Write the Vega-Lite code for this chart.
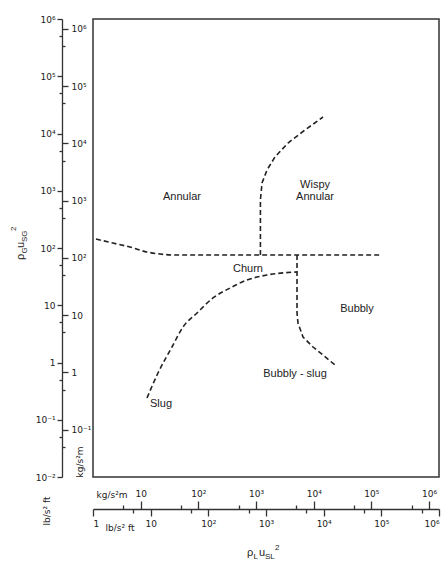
{
  "$schema": "https://vega.github.io/schema/vega-lite/v6.json",
  "width": 346,
  "height": 458,
  "autosize": "none",
  "padding": {"left": 93, "top": 19, "right": 5, "bottom": 88},
  "background": "white",
  "config": {
    "view": {"stroke": "#333", "strokeWidth": 1.5},
    "axis": {"labelFont": "DejaVu Sans", "labelFontSize": 9, "labelColor": "#222", "tickColor": "#333", "tickWidth": 1.3, "domainColor": "#333", "domainWidth": 1.3, "grid": false, "title": null, "labelOverlap": false, "labelFlush": false},
    "text": {"font": "Liberation Sans", "fontSize": 11, "color": "#222"}
  },
  "layer": [
    {
      "encoding": {
        "x": {"field": "x", "type": "quantitative", "scale": {"type": "log", "domain": [1, 1000000], "nice": false},
          "axis": {"orient": "bottom", "offset": 32, "labelFlush": true, "values": [1, 5, 10, 50, 100, 500, 1000, 5000, 10000, 50000, 100000, 500000, 1000000],
            "labelExpr": "datum.value==0.01?'10⁻²':datum.value==0.1?'10⁻¹':datum.value==1?'1':datum.value==10?'10':datum.value==100?'10²':datum.value==1000?'10³':datum.value==10000?'10⁴':datum.value==100000?'10⁵':datum.value==1000000?'10⁶':''",
            "tickSize": {"condition": {"test": "abs(log(datum.value)/LN10-round(log(datum.value)/LN10))>0.1", "value": 4}, "value": 7},
            "labelPadding": 3}},
        "y": {"field": "y", "type": "quantitative", "scale": {"type": "log", "domain": [0.01, 1000000], "nice": false},
          "axis": {"orient": "left", "offset": 31, "values": [0.01, 0.05, 0.1, 0.5, 1, 5, 10, 50, 100, 500, 1000, 5000, 10000, 50000, 100000, 500000, 1000000],
            "labelExpr": "datum.value==0.01?'10⁻²':datum.value==0.1?'10⁻¹':datum.value==1?'1':datum.value==10?'10':datum.value==100?'10²':datum.value==1000?'10³':datum.value==10000?'10⁴':datum.value==100000?'10⁵':datum.value==1000000?'10⁶':''",
            "tickSize": {"condition": {"test": "abs(log(datum.value)/LN10-round(log(datum.value)/LN10))>0.1", "value": 3}, "value": 5},
            "labelPadding": 2}}
      },
      "layer": [
        {
          "data": {"values": [
            {"c": "A", "i": 0, "x": 1.127, "y": 143.6},
            {"c": "A", "i": 1, "x": 2.22, "y": 122},
            {"c": "A", "i": 2, "x": 4.38, "y": 104},
            {"c": "A", "i": 3, "x": 8.64, "y": 85.1},
            {"c": "A", "i": 4, "x": 14.5, "y": 78.5},
            {"c": "A", "i": 5, "x": 24.4, "y": 75.5},
            {"c": "A", "i": 6, "x": 103000, "y": 75.5},
            {"c": "C", "i": 0, "x": 8.64, "y": 0.24},
            {"c": "C", "i": 1, "x": 13.4, "y": 0.656},
            {"c": "C", "i": 2, "x": 23.4, "y": 1.865},
            {"c": "C", "i": 3, "x": 36.4, "y": 4.17},
            {"c": "C", "i": 4, "x": 63.6, "y": 7.32},
            {"c": "C", "i": 5, "x": 120.5, "y": 13.4},
            {"c": "C", "i": 6, "x": 237.6, "y": 20.0},
            {"c": "C", "i": 7, "x": 468, "y": 27.6},
            {"c": "C", "i": 8, "x": 1041, "y": 33.8},
            {"c": "C", "i": 9, "x": 3450, "y": 38.1}
          ]},
          "mark": {"type": "line", "strokeDash": [5, 3], "strokeWidth": 1.6, "color": "#222", "interpolate": "monotone"},
          "encoding": {"detail": {"field": "c"}, "order": {"field": "i", "type": "quantitative"}}
        },
        {
          "data": {"values": [
            {"c": "B", "i": 0, "x": 800, "y": 75.5},
            {"c": "B", "i": 1, "x": 800, "y": 273},
            {"c": "B", "i": 2, "x": 800, "y": 689},
            {"c": "B", "i": 3, "x": 853, "y": 1366},
            {"c": "B", "i": 4, "x": 1041, "y": 2303},
            {"c": "B", "i": 5, "x": 1432, "y": 3890},
            {"c": "B", "i": 6, "x": 2407, "y": 6826},
            {"c": "B", "i": 7, "x": 4748, "y": 11510},
            {"c": "B", "i": 8, "x": 9730, "y": 19420},
            {"c": "D", "i": 0, "x": 3450, "y": 75.5},
            {"c": "D", "i": 1, "x": 3450, "y": 7.32},
            {"c": "D", "i": 2, "x": 3589, "y": 4.9},
            {"c": "D", "i": 3, "x": 4385, "y": 2.79},
            {"c": "D", "i": 4, "x": 6530, "y": 1.865},
            {"c": "D", "i": 5, "x": 9730, "y": 1.35},
            {"c": "D", "i": 6, "x": 15730, "y": 0.904}
          ]},
          "mark": {"type": "line", "strokeDash": [5, 3], "strokeWidth": 1.6, "color": "#222"},
          "encoding": {"detail": {"field": "c"}, "order": {"field": "i", "type": "quantitative"}}
        },
        {
          "data": {"values": [
            {"t": "Annular", "x": 34.9, "y": 778},
            {"t": "Wispy", "x": 7080, "y": 1259},
            {"t": "Annular", "x": 7080, "y": 778},
            {"t": "Churn", "x": 487, "y": 43.0},
            {"t": "Bubbly", "x": 37840, "y": 8.6},
            {"t": "Bubbly - slug", "x": 3184, "y": 0.63}
          ]},
          "mark": {"type": "text", "align": "center", "baseline": "middle"},
          "encoding": {"text": {"field": "t"}}
        },
        {
          "data": {"values": [{"t": "Slug", "x": 9.73, "y": 0.188}]},
          "mark": {"type": "text", "align": "left", "baseline": "middle"},
          "encoding": {"text": {"field": "t"}}
        },
        {
          "data": {"values": [
            {"t": "kg/s²m", "x": 2.14, "y": 0.00485},
            {"t": "lb/s² ft", "x": 2.94, "y": 0.00129}
          ]},
          "mark": {"type": "text", "align": "center", "baseline": "middle", "font": "DejaVu Sans", "fontSize": 9},
          "encoding": {"text": {"field": "t"}}
        },
        {
          "data": {"values": [
            {"t": "kg/s²m", "x": 0.595, "y": 0.0183},
            {"t": "lb/s² ft", "x": 0.159, "y": 0.00255}
          ]},
          "mark": {"type": "text", "align": "center", "baseline": "middle", "angle": 270, "font": "DejaVu Sans", "fontSize": 9},
          "encoding": {"text": {"field": "t"}}
        },
        {
          "data": {"values": [{"t": "ρ", "x": 468, "y": 0.000417}]},
          "mark": {"type": "text", "align": "left", "baseline": "alphabetic", "fontSize": 11},
          "encoding": {"text": {"field": "t"}}
        },
        {
          "data": {"values": [{"t": "L", "x": 468, "y": 0.000417}]},
          "mark": {"type": "text", "align": "left", "baseline": "alphabetic", "fontSize": 8, "dx": 6.5, "dy": 3},
          "encoding": {"text": {"field": "t"}}
        },
        {
          "data": {"values": [{"t": "u", "x": 468, "y": 0.000417}]},
          "mark": {"type": "text", "align": "left", "baseline": "alphabetic", "fontSize": 11, "dx": 12},
          "encoding": {"text": {"field": "t"}}
        },
        {
          "data": {"values": [{"t": "SL", "x": 468, "y": 0.000417}]},
          "mark": {"type": "text", "align": "left", "baseline": "alphabetic", "fontSize": 8, "dx": 18, "dy": 3},
          "encoding": {"text": {"field": "t"}}
        },
        {
          "data": {"values": [{"t": "2", "x": 468, "y": 0.000417}]},
          "mark": {"type": "text", "align": "left", "baseline": "alphabetic", "fontSize": 8, "dx": 28, "dy": -6},
          "encoding": {"text": {"field": "t"}}
        },
        {
          "data": {"values": [{"t": "ρ", "x": 0.0636, "y": 61.7}]},
          "mark": {"type": "text", "align": "left", "baseline": "alphabetic", "fontSize": 11, "angle": 270},
          "encoding": {"text": {"field": "t"}}
        },
        {
          "data": {"values": [{"t": "G", "x": 0.0636, "y": 61.7}]},
          "mark": {"type": "text", "align": "left", "baseline": "alphabetic", "fontSize": 8, "angle": 270, "dx": 6.5, "dy": 3},
          "encoding": {"text": {"field": "t"}}
        },
        {
          "data": {"values": [{"t": "u", "x": 0.0636, "y": 61.7}]},
          "mark": {"type": "text", "align": "left", "baseline": "alphabetic", "fontSize": 11, "angle": 270, "dx": 12},
          "encoding": {"text": {"field": "t"}}
        },
        {
          "data": {"values": [{"t": "SG", "x": 0.0636, "y": 61.7}]},
          "mark": {"type": "text", "align": "left", "baseline": "alphabetic", "fontSize": 8, "angle": 270, "dx": 18, "dy": 3},
          "encoding": {"text": {"field": "t"}}
        },
        {
          "data": {"values": [{"t": "2", "x": 0.0636, "y": 61.7}]},
          "mark": {"type": "text", "align": "left", "baseline": "alphabetic", "fontSize": 8, "angle": 270, "dx": 29, "dy": -8},
          "encoding": {"text": {"field": "t"}}
        }
      ]
    },
    {
      "data": {"values": [{"kx": 1.488, "ky": 0.01488}, {"kx": 1488000, "ky": 1488000}]},
      "mark": {"type": "point", "opacity": 0},
      "encoding": {
        "x": {"field": "kx", "type": "quantitative", "scale": {"type": "log", "domain": [1.488, 1488000], "nice": false},
          "axis": {"orient": "top", "offset": -490, "domain": false, "values": [5, 10, 50, 100, 500, 1000, 5000, 10000, 50000, 100000, 500000, 1000000],
            "labelExpr": "datum.value==0.01?'10⁻²':datum.value==0.1?'10⁻¹':datum.value==1?'1':datum.value==10?'10':datum.value==100?'10²':datum.value==1000?'10³':datum.value==10000?'10⁴':datum.value==100000?'10⁵':datum.value==1000000?'10⁶':''",
            "tickSize": {"condition": {"test": "abs(log(datum.value)/LN10-round(log(datum.value)/LN10))>0.1", "value": 4}, "value": 8},
            "labelPadding": 3}},
        "y": {"field": "ky", "type": "quantitative", "scale": {"type": "log", "domain": [0.01488, 1488000], "nice": false},
          "axis": {"orient": "right", "offset": -377, "domain": false, "values": [0.05, 0.1, 0.5, 1, 5, 10, 50, 100, 500, 1000, 5000, 10000, 50000, 100000, 500000, 1000000],
            "labelExpr": "datum.value==0.01?'10⁻²':datum.value==0.1?'10⁻¹':datum.value==1?'1':datum.value==10?'10':datum.value==100?'10²':datum.value==1000?'10³':datum.value==10000?'10⁴':datum.value==100000?'10⁵':datum.value==1000000?'10⁶':''",
            "tickSize": {"condition": {"test": "abs(log(datum.value)/LN10-round(log(datum.value)/LN10))>0.1", "value": 3}, "value": 6},
            "labelPadding": 3}}
      }
    }
  ],
  "resolve": {"scale": {"x": "independent", "y": "independent"}}
}
